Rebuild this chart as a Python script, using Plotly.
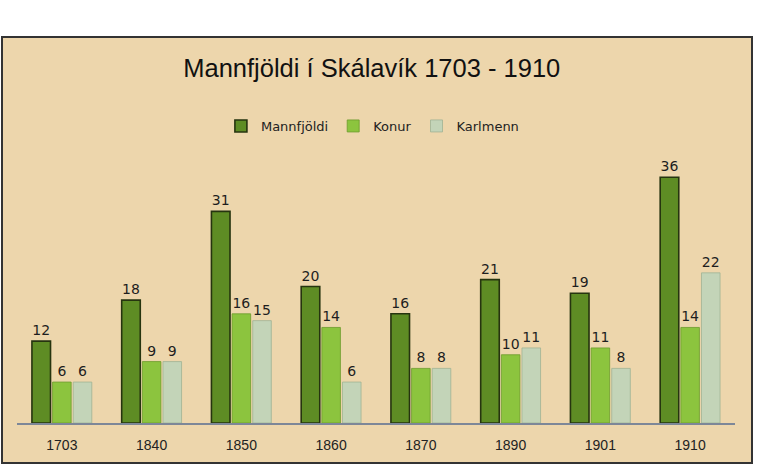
import plotly.graph_objects as go

years = ["1703", "1840", "1850", "1860", "1870", "1890", "1901", "1910"]
mannfjoldi = [12, 18, 31, 20, 16, 21, 19, 36]
konur = [6, 9, 16, 14, 8, 10, 11, 14]
karlmenn = [6, 9, 15, 6, 8, 11, 8, 22]

series = [
    ("Mannfjöldi", mannfjoldi, "#5E8C24", "#26340F", 1.6),
    ("Konur", konur, "#8CC43E", "#6C9A2C", 0.8),
    ("Karlmenn", karlmenn, "#C3D4B8", "#9FB294", 0.8),
]

fig = go.Figure()
for name, vals, fill, line, lw in series:
    fig.add_trace(go.Bar(
        x=years, y=vals, name=name,
        marker=dict(color=fill, line=dict(color=line, width=lw)),
        text=[str(v) for v in vals], textposition="outside",
        textfont=dict(family="DejaVu Sans", size=14, color="#1E1E1E"),
        cliponaxis=False,
    ))

W, H = 759, 466
ml, mr, mt, mb = 17, 24, 150, 43
pw = W - ml - mr
ph = H - mt - mb

def px_x(p):
    return (p - ml) / pw

def px_y(p):
    return (H - mb - p) / ph

fig.update_layout(
    width=W, height=H,
    margin=dict(l=ml, r=mr, t=mt, b=mb, pad=0),
    paper_bgcolor="white",
    plot_bgcolor="rgba(0,0,0,0)",
    barmode="group", bargap=0.31, bargroupgap=0.1,
    title=dict(text="Mannfjöldi í Skálavík 1703 - 1910",
               font=dict(family="Liberation Sans", size=25.5, color="#111111"),
               x=375 / W, xanchor="center", y=1 - 68 / H, yanchor="middle",
               xref="paper", yref="container"),
    legend=dict(orientation="h", x=0.495, xanchor="center", y=px_y(126), yanchor="middle",
                font=dict(family="DejaVu Sans", size=13, color="#222222"),
                bgcolor="rgba(0,0,0,0)", itemwidth=30, traceorder="normal"),
    showlegend=True,
    xaxis=dict(showline=True, linecolor="#7D8798", linewidth=1.5, ticks="",
               showgrid=False, zeroline=False,
               tickfont=dict(family="Liberation Sans", size=14, color="#222222"),
               ticklabelstandoff=8),
    yaxis=dict(visible=False, range=[0, 40], showgrid=False, zeroline=False),
    shapes=[dict(type="rect", xref="paper", yref="paper", layer="below",
                 x0=px_x(2), x1=px_x(752), y0=px_y(463), y1=px_y(37),
                 fillcolor="#EDD6AC", line=dict(color="#333333", width=2))],
)

fig.write_html("out.html", config={"displayModeBar": False},
               post_script="document.body.style.margin='0';document.body.style.padding='0';")
